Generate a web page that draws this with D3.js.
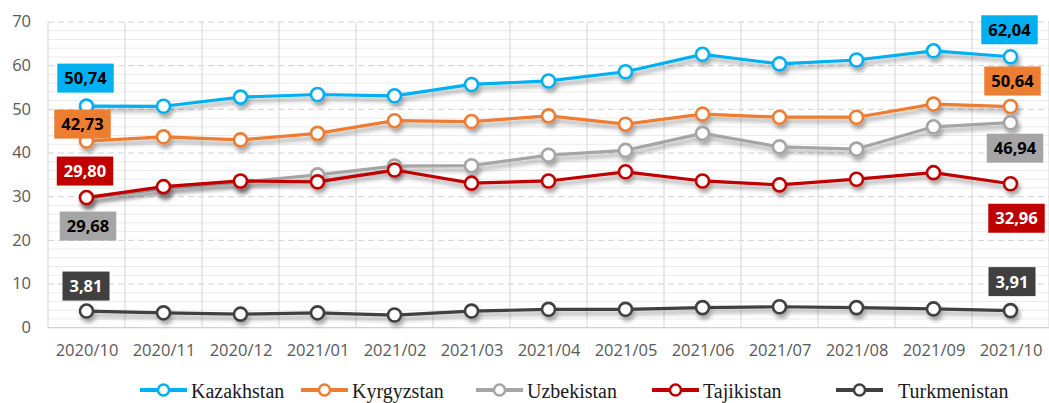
<!DOCTYPE html>
<html>
<head>
<meta charset="utf-8">
<script src="https://cdn.jsdelivr.net/npm/d3@7"></script>
<style>
  html, body { margin: 0; padding: 0; background: #fff; }
  svg { display: block; }
</style>
</head>
<body>
<svg id="chart" width="1049" height="403"></svg>
<script>
const categories = ["2020/10","2020/11","2020/12","2021/01","2021/02","2021/03","2021/04","2021/05","2021/06","2021/07","2021/08","2021/09","2021/10"];
const seriesNames = ["Kazakhstan","Kyrgyzstan","Uzbekistan","Tajikistan","Turkmenistan"];
const kazakhstan   = [50.74, 50.7, 52.8, 53.4, 53.1, 55.7, 56.5, 58.6, 62.6, 60.4, 61.3, 63.4, 62.04];
const kyrgyzstan   = [42.73, 43.7, 43.0, 44.5, 47.4, 47.2, 48.5, 46.6, 48.9, 48.2, 48.2, 51.2, 50.64];
const uzbekistan   = [29.68, 31.9, 33.3, 35.0, 37.0, 37.1, 39.5, 40.6, 44.5, 41.4, 40.9, 46.0, 46.94];
const tajikistan   = [29.80, 32.3, 33.6, 33.4, 36.1, 33.1, 33.6, 35.7, 33.6, 32.7, 34.0, 35.5, 32.96];
const turkmenistan = [3.81, 3.4, 3.1, 3.4, 2.9, 3.8, 4.2, 4.2, 4.6, 4.8, 4.6, 4.3, 3.91];
const yTicks = [0, 10, 20, 30, 40, 50, 60, 70];

(function () {
const values = [kazakhstan, kyrgyzstan, uzbekistan, tajikistan, turkmenistan];
const colors = ["#00B0F0", "#ED7D31", "#A5A5A5", "#C00000", "#404040"];
const labelText = ["#000", "#000", "#000", "#fff", "#fff"];
// label offsets (first point, last point): [dx, dy] of box centre relative to point
const labelOffsets = [
  [[-1, -28], [-1, -27]],
  [[-4, -17], [2, -25.5]],
  [[1.5, 28], [4.5, 25.5]],
  [[-1.5, -26.5], [6, 34.5]],
  [[-0.5, -25], [1.5, -29]]
];

const svg = d3.select("#chart");
const pLeft = 48, pRight = 1049, pTop = 22, pBottom = 327.7;

const x = d3.scalePoint().domain(categories).range([pLeft, pRight]).padding(0.5);
const step = x.step();
const y = d3.scaleLinear().domain([0, 70]).range([pBottom, pTop]);

const defs = svg.append("defs");
const f = defs.append("filter").attr("id", "shadow").attr("x", "-10%").attr("y", "-30%").attr("width", "130%").attr("height", "180%");
f.append("feDropShadow").attr("dx", 2).attr("dy", 4).attr("stdDeviation", 2.2)
  .attr("flood-color", "#000").attr("flood-opacity", 0.35);

// grid
const grid = svg.append("g");
grid.selectAll("line.minor").data(d3.range(2, 70, 2).filter(v => v % 10 !== 0)).join("line")
  .attr("x1", pLeft).attr("x2", pRight).attr("y1", d => y(d)).attr("y2", d => y(d))
  .attr("stroke", "#ebebeb").attr("stroke-width", 1);
grid.selectAll("line.major").data(yTicks.filter(v => v > 0)).join("line")
  .attr("x1", pLeft).attr("x2", pRight).attr("y1", d => y(d)).attr("y2", d => y(d))
  .attr("stroke", "#d0d0d0").attr("stroke-width", 1).attr("stroke-dasharray", "6,4");
grid.selectAll("line.v").data(d3.range(categories.length + 1)).join("line")
  .attr("x1", d => pLeft + d * step).attr("x2", d => pLeft + d * step)
  .attr("y1", pTop).attr("y2", pBottom)
  .attr("stroke", "#d5d5d5").attr("stroke-width", 1);
grid.append("line").attr("x1", pLeft).attr("x2", pRight).attr("y1", pBottom).attr("y2", pBottom)
  .attr("stroke", "#d0d0d0").attr("stroke-width", 1.2);

// axes
const yAxis = svg.append("g").attr("transform", `translate(${pLeft - 17},0)`)
  .call(d3.axisLeft(y).tickValues(yTicks).tickSize(0).tickPadding(0));
yAxis.select(".domain").remove();
yAxis.selectAll("text").attr("font-family", "'Open Sans', sans-serif").attr("font-size", 16.5)
  .attr("fill", "#595959").attr("dy", "0.3em");

const xAxis = svg.append("g").attr("transform", `translate(0,${pBottom})`)
  .call(d3.axisBottom(x).tickSize(0).tickPadding(17));
xAxis.select(".domain").remove();
xAxis.selectAll("text").attr("font-family", "'Open Sans', sans-serif").attr("font-size", 16.5)
  .attr("fill", "#595959");

// series
const line = d3.line().x((d, i) => x(categories[i])).y(d => y(d));
values.forEach((vals, s) => {
  const g = svg.append("g").attr("filter", "url(#shadow)");
  g.append("path").datum(vals).attr("d", line).attr("fill", "none")
    .attr("stroke", colors[s]).attr("stroke-width", 3.2).attr("stroke-linejoin", "round");
  g.selectAll("circle").data(vals).join("circle")
    .attr("cx", (d, i) => x(categories[i])).attr("cy", d => y(d)).attr("r", 6.5)
    .attr("fill", "#fff").attr("stroke", colors[s]).attr("stroke-width", 2.6);
});

// data labels
const fmt = v => d3.format(".2f")(v).replace(".", ",");
values.forEach((vals, s) => {
  [0, vals.length - 1].forEach((idx, k) => {
    const off = labelOffsets[s][k];
    const cx = x(categories[idx]) + off[0];
    const cy = y(vals[idx]) + off[1];
    const g = svg.append("g");
    const rect = g.append("rect").attr("fill", colors[s]);
    const t = g.append("text").text(fmt(vals[idx]))
      .attr("x", cx).attr("y", cy).attr("dy", "0.36em").attr("text-anchor", "middle")
      .attr("font-family", "'Open Sans', sans-serif").attr("font-weight", "bold")
      .attr("font-size", 16.5).attr("fill", labelText[s]);
    const w = t.node().getComputedTextLength() + 14;
    const h = 29;
    rect.attr("x", cx - w / 2).attr("y", cy - h / 2).attr("width", w).attr("height", h);
  });
});

// legend
const legendX = [140, 301, 476, 652, 836];
const legend = svg.append("g");
seriesNames.forEach((name, s) => {
  const g = legend.append("g").attr("transform", `translate(${legendX[s]},390)`);
  g.append("line").attr("x1", 0).attr("x2", 47).attr("y1", 0).attr("y2", 0)
    .attr("stroke", colors[s]).attr("stroke-width", 4);
  g.append("circle").attr("cx", 23.5).attr("cy", 0).attr("r", 5.5)
    .attr("fill", "#fff").attr("stroke", colors[s]).attr("stroke-width", 2.5);
  g.append("text").attr("x", s === 4 ? 62 : 51).attr("y", 8).text(name)
    .attr("font-family", "'Liberation Serif', 'Times New Roman', serif")
    .attr("font-size", 20).attr("fill", "#1a1a1a");
});
})();
</script>
</body>
</html>
